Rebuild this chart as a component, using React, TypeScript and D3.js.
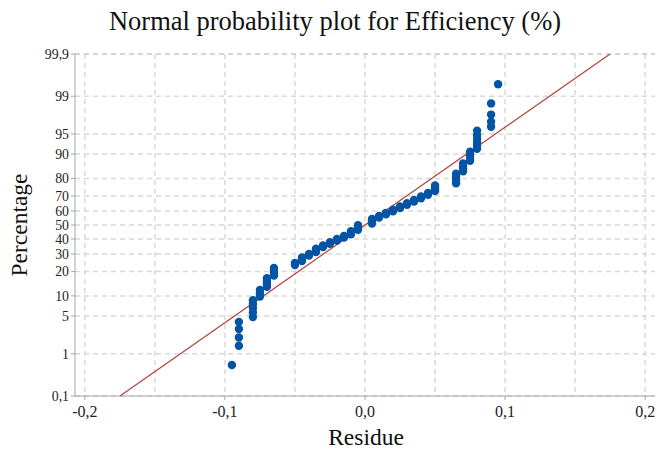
import React from "react";
import * as d3 from "d3";

// Residue values (x) and their plotted cumulative percentages (y)
const residue: number[] = [
  -0.095,
  -0.09, -0.09, -0.09, -0.09,
  -0.08, -0.08, -0.08, -0.08, -0.08,
  -0.075, -0.075, -0.075,
  -0.07, -0.07, -0.07, -0.07,
  -0.065, -0.065, -0.065, -0.065,
  -0.05, -0.05,
  -0.045, -0.045, -0.045,
  -0.04, -0.04,
  -0.035, -0.035, -0.035,
  -0.03, -0.03,
  -0.025, -0.025,
  -0.02, -0.02,
  -0.015, -0.015,
  -0.01, -0.01, -0.01,
  -0.005, -0.005, -0.005, -0.005,
  0.005, 0.005, 0.005, 0.005,
  0.01, 0.01,
  0.015, 0.015,
  0.02, 0.02,
  0.025, 0.025,
  0.03, 0.03,
  0.035, 0.035,
  0.04, 0.04,
  0.045, 0.045,
  0.05, 0.05, 0.05, 0.05,
  0.065, 0.065, 0.065, 0.065, 0.065,
  0.07, 0.07, 0.07, 0.07,
  0.075, 0.075, 0.075, 0.075,
  0.08, 0.08, 0.08, 0.08, 0.08, 0.08,
  0.09, 0.09, 0.09, 0.09,
  0.095,
];

const percentage: number[] = [
  0.57,
  1.45, 2.1, 3.0, 4.0,
  4.8, 5.7, 6.7, 7.7, 8.7,
  9.8, 10.9, 12.0,
  13.2, 14.4, 15.6, 16.8,
  18.0, 19.3, 20.6, 21.9,
  23.5, 24.6,
  25.7, 26.8, 27.9,
  29.0, 30.1,
  31.2, 32.3, 33.4,
  34.5, 35.6,
  36.7, 37.8,
  38.9, 40.0,
  41.1, 42.2,
  43.3, 44.4, 45.5,
  46.6, 47.7, 48.8, 49.9,
  51.0, 52.1, 53.2, 54.3,
  55.4, 56.5,
  57.6, 58.7,
  59.8, 60.9,
  62.0, 63.1,
  64.2, 65.3,
  66.4, 67.5,
  68.6, 69.7,
  70.8, 71.9,
  73.0, 74.1, 75.2, 76.3,
  77.5, 78.7, 79.9, 81.1, 82.3,
  83.4, 84.5, 85.6, 86.7,
  87.7, 88.7, 89.7, 90.7,
  91.6, 92.4, 93.2, 94.0, 94.8, 95.6,
  96.2, 96.9, 97.7, 98.6,
  99.45,
];

const yTicks: number[] = [0.1, 1, 5, 10, 20, 30, 40, 50, 60, 70, 80, 90, 95, 99, 99.9];
const xTicks: number[] = [-0.2, -0.1, 0, 0.1, 0.2];
const xGrid: number[] = [-0.2, -0.15, -0.1, -0.05, 0, 0.05, 0.1, 0.15, 0.2];

// fitted normal distribution line
const fitMean = 0;
const fitSd = 0.0566;

// inverse normal CDF (Acklam)
function probit(p: number): number {
  const a = [-39.69683028665376, 220.9460984245205, -275.9285104469687, 138.357751867269, -30.66479806614716, 2.506628277459239];
  const b = [-54.47609879822406, 161.5858368580409, -155.6989798598866, 66.80131188771972, -13.28068155288572];
  const c = [-0.007784894002430293, -0.3223964580411365, -2.400758277161838, -2.549732539343734, 4.374664141464968, 2.938163982698783];
  const d = [0.007784695709041462, 0.3224671290700398, 2.445134137142996, 3.754408661907416];
  const pl = 0.02425;
  let q: number, r: number;
  if (p < pl) {
    q = Math.sqrt(-2 * Math.log(p));
    return (((((c[0] * q + c[1]) * q + c[2]) * q + c[3]) * q + c[4]) * q + c[5]) / ((((d[0] * q + d[1]) * q + d[2]) * q + d[3]) * q + 1);
  } else if (p <= 1 - pl) {
    q = p - 0.5;
    r = q * q;
    return ((((((a[0] * r + a[1]) * r + a[2]) * r + a[3]) * r + a[4]) * r + a[5]) * q) / (((((b[0] * r + b[1]) * r + b[2]) * r + b[3]) * r + b[4]) * r + 1);
  } else {
    q = Math.sqrt(-2 * Math.log(1 - p));
    return -(((((c[0] * q + c[1]) * q + c[2]) * q + c[3]) * q + c[4]) * q + c[5]) / ((((d[0] * q + d[1]) * q + d[2]) * q + d[3]) * q + 1);
  }
}

const W = 657;
const H = 449;
const left = 75;
const right = 655;
const top = 54;
const bottom = 396;

export default function App() {
  const zMax = -probit(0.001);
  const x = d3.scaleLinear().domain([-0.207, 0.207]).range([left, right]);
  const y = d3.scaleLinear().domain([-zMax, zMax]).range([bottom, top]);
  const yp = (pct: number) => y(probit(pct / 100));

  const lineData = [0.1, 99.9].map((p) => ({ r: fitMean + fitSd * probit(p / 100), p }));
  const line = d3
    .line<{ r: number; p: number }>()
    .x((d) => x(d.r))
    .y((d) => yp(d.p));

  const serif = "'Liberation Serif', 'Times New Roman', serif";
  const gridColor = "#d9d9d9";

  return (
    <svg width={W} height={H} style={{ position: "absolute", left: 0, top: 0 }} fontFamily={serif}>
      <rect width={W} height={H} fill="#fff" />
      <text x={335} y={30} textAnchor="middle" fontSize={26.5} fill="#111">
        Normal probability plot for Efficiency (%)
      </text>

      {xGrid.map((v) => (
        <line key={"vx" + v} x1={x(v)} x2={x(v)} y1={top} y2={bottom} stroke={gridColor} strokeWidth={1.5} strokeDasharray="5,4" />
      ))}
      {yTicks.map((t) => (
        <line key={"hy" + t} x1={left} x2={right} y1={yp(t)} y2={yp(t)} stroke={t === 99.9 ? "#c8c8c8" : gridColor} strokeWidth={1.5} strokeDasharray="5,4" />
      ))}

      <line x1={left} x2={left} y1={top} y2={bottom} stroke="#a6a6a6" strokeWidth={1} />
      <line x1={left} x2={right} y1={bottom} y2={bottom} stroke="#a6a6a6" strokeWidth={1} />

      {yTicks.map((t) => (
        <g key={"yt" + t}>
          <line x1={left - 4} x2={left} y1={yp(t)} y2={yp(t)} stroke="#a6a6a6" />
          <text x={left - 6} y={yp(t)} dy="0.35em" textAnchor="end" fontSize={13.8} fill="#222">
            {String(t).replace(".", ",")}
          </text>
        </g>
      ))}
      {xTicks.map((t) => (
        <g key={"xt" + t}>
          <line x1={x(t)} x2={x(t)} y1={bottom} y2={bottom + 4} stroke="#a6a6a6" />
          <text x={x(t)} y={bottom + 21} textAnchor="middle" fontSize={16} fill="#222">
            {t === 0 ? "0,0" : t.toFixed(1).replace(".", ",")}
          </text>
        </g>
      ))}

      <defs>
        <clipPath id="plotClip">
          <rect x={left} y={top} width={right - left} height={bottom - top} />
        </clipPath>
      </defs>

      <path d={line(lineData) || ""} fill="none" stroke="#b5403c" strokeWidth={1.2} clipPath="url(#plotClip)" />

      {residue.map((r, i) => (
        <circle key={"pt" + i} cx={x(r)} cy={yp(percentage[i])} r={4.2} fill="#0454a6" />
      ))}

      <text x={366} y={445} textAnchor="middle" fontSize={23.5} fill="#111">
        Residue
      </text>
      <text transform={`translate(27, ${y(0)}) rotate(-90)`} textAnchor="middle" fontSize={23.5} fill="#111">
        Percentage
      </text>
    </svg>
  );
}
